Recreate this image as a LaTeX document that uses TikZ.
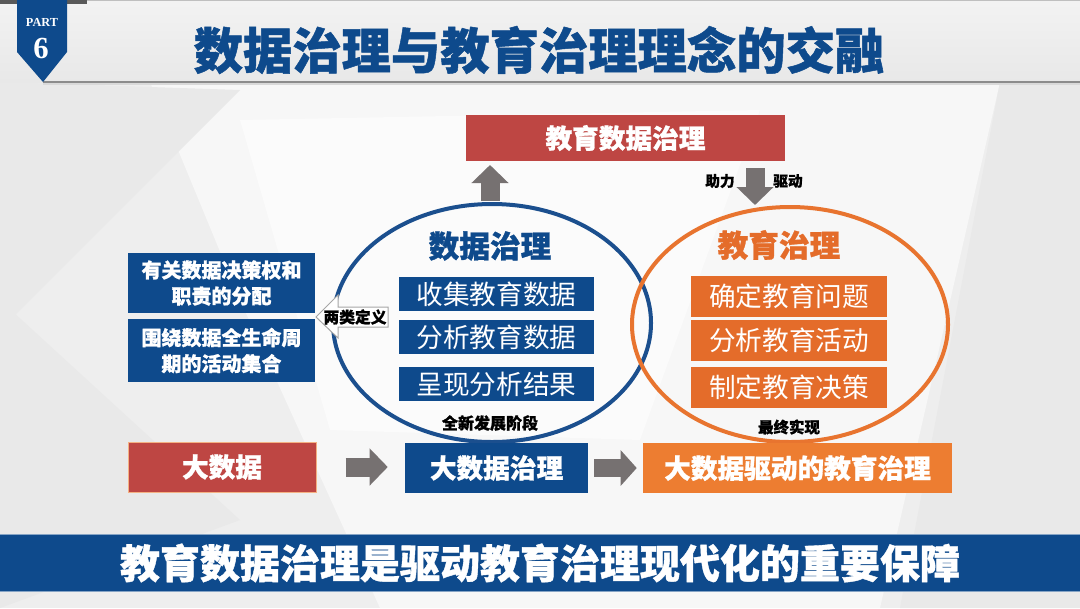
\documentclass[tikz,border=0pt]{standalone}
\usepackage{fontspec}
\setmainfont{Noto Sans CJK SC}[BoldFeatures={FakeBold=1}]
\newfontfamily\partfont{Liberation Serif}
\usetikzlibrary{shapes.geometric,arrows.meta}
\definecolor{dblue}{HTML}{0E4A8C}
\definecolor{dred}{HTML}{BE4643}
\definecolor{orin}{HTML}{E46C2A}
\definecolor{orbot}{HTML}{ED7D31}
\definecolor{orell}{HTML}{E8742F}
\definecolor{elblue}{HTML}{1B4F8E}
\definecolor{agray}{HTML}{767171}
\definecolor{bgbase}{HTML}{EEEEEE}
\tikzset{
  fillbox/.style={inner sep=0pt, text=white, align=center},
  garrow/.style={draw=agray, line width=14.25pt, -{Triangle[width=27pt,length=13.5pt]}},
  garrowsm/.style={draw=agray, line width=13pt, -{Triangle[width=26pt,length=12pt]}},
  lbl/.style={inner sep=0pt, text=black, font=\bfseries\fontsize{11.8}{14}\selectfont},
}
\begin{document}
\begin{tikzpicture}[x=0.75pt,y=-0.75pt]
\useasboundingbox (0,0) rectangle (1080,608);
% background
\fill[bgbase] (0,0) rectangle (1080,608);
\fill[white!50!bgbase] (150,82) -- (1000,82) -- (880,608) -- (380,608) -- (240,300) -- cycle;
\fill[white!75!bgbase] (240,120) -- (760,110) -- (640,440) -- (330,430) -- cycle;
\fill[black!2!bgbase] (0,300) -- (240,520) -- (0,608) -- cycle;
\fill[black!2!bgbase] (1000,82) -- (1080,82) -- (1080,608) -- (900,608) -- cycle;
\fill[black!2!bgbase] (0,82) -- (240,90) -- (0,330) -- cycle;
% title band
\fill[top color=white!95!black, bottom color=white!91!black] (0,0) rectangle (1080,82);
\draw[black!25, line width=0.75pt] (87,0.5) -- (1080,0.5);
\fill[black!65] (0,0) rectangle (87,4);
\draw[black!45, line width=1.2pt] (43,82) -- (1080,82);
\draw[black!15, line width=1pt] (43,84) -- (1080,84);
% badge
\fill[dblue] (17,0) -- (67,0) -- (67,52) -- (43,82) -- (17,52) -- cycle;
\node[inner sep=0pt, text=white, font=\partfont\bfseries\fontsize{9.2}{10}\selectfont] (part) at (42,22) {PART};
\node[inner sep=0pt, text=white, font=\partfont\bfseries\fontsize{23}{26}\selectfont] (six) at (41,48) {6};
% title
\node[inner sep=0pt, text=dblue, font=\bfseries\fontsize{37}{40}\selectfont] (title) at (539,50) {数据治理与教育治理理念的交融};
% top box
\node[fillbox, fill=dred, minimum width=239.25pt, minimum height=34.5pt, font=\bfseries\fontsize{20}{24}\selectfont] (tbox) at (625.5,138) {教育数据治理};
% ellipses
\node[ellipse, draw=elblue, line width=3pt, inner sep=0pt, minimum width=238.5pt, minimum height=178.5pt] (bell) at (492,323) {};
\node[ellipse, draw=orell, line width=3pt, inner sep=0pt, minimum width=237pt, minimum height=176.25pt] (oell) at (790,324.5) {};
% headings
\node[inner sep=0pt, text=dblue, font=\bfseries\fontsize{23}{27}\selectfont] (bh) at (490,246) {数据治理};
\node[inner sep=0pt, text=orin, font=\bfseries\fontsize{23}{27}\selectfont] (oh) at (779,245) {教育治理};
% blue inner boxes
\tikzset{bin/.style={fillbox, fill=dblue, minimum width=146.25pt, minimum height=25.5pt, font=\fontsize{20}{24}\selectfont}}
\node[bin] (b1) at (496.5,294) {收集教育数据};
\node[bin] (b2) at (496.5,337) {分析教育数据};
\node[bin] (b3) at (496.5,384) {呈现分析结果};
% orange inner boxes
\tikzset{oin/.style={fillbox, fill=orin, minimum width=147pt, minimum height=30.75pt, font=\fontsize{20}{24}\selectfont}}
\node[oin] (o1) at (789,296.5) {确定教育问题};
\node[oin] (o2) at (789,340.5) {分析教育活动};
\node[oin] (o3) at (789,387.5) {制定教育决策};
% small labels
\node[lbl, font=\bfseries\fontsize{12}{14}\selectfont] (lb1) at (490,423) {全新发展阶段};
\node[lbl, font=\bfseries\fontsize{11.6}{14}\selectfont] (lb2) at (789,427) {最终实现};
\node[lbl, font=\bfseries\fontsize{11}{13}\selectfont] (zl) at (720,181) {助力};
\node[lbl, font=\bfseries\fontsize{11}{13}\selectfont] (qd) at (788,181) {驱动};
% left boxes
\tikzset{lbox/.style={fillbox, fill=dblue, minimum width=140.25pt, font=\bfseries\fontsize{15}{19.5}\selectfont}}
\node[lbox, minimum height=45pt] (d1) at (221.5,283) {有关数据决策权和\\职责的分配};
\node[lbox, minimum height=47.25pt] (d2) at (221.5,350.5) {围绕数据全生命周\\期的活动集合};
% callout
\draw[fill=white, draw=black!35, line width=0.75pt] (316,317) -- (338,295) -- (338,307) -- (388,307) -- (388,327) -- (338,327) -- (338,338) -- cycle;
\node[lbl] (cl) at (355,317) {两类定义};
% bottom row
\tikzset{bbox/.style={fillbox, minimum height=37.5pt, font=\bfseries\fontsize{20}{24}\selectfont}}
\node[bbox, fill=dred, draw=orbot!60, line width=0.75pt, minimum width=141pt] (bb1) at (222,467) {大数据};
\node[bbox, fill=dblue, minimum width=137.25pt] (bb2) at (496.5,468) {大数据治理};
\node[bbox, fill=orbot, minimum width=231.75pt] (bb3) at (797.5,468) {大数据驱动的教育治理};
% arrows
\coordinate (upS) at (490,201);
\coordinate (upE) at (490,165);
\draw[garrow] (upS) -- (upE);
\coordinate (dnS) at (755,168);
\coordinate (dnE) at (755,205);
\draw[garrow] (dnS) -- (dnE);
\draw[garrow, shorten <=21.75pt, shorten >=12.75pt] (bb1.east) -- (bb2.west |- bb1.east);
\draw[garrowsm, shorten <=4.5pt, shorten >=4.5pt] (bb2.east) -- (bb3.west);
% banner
\node[fill=dblue, draw=dblue!50!white, line width=0.75pt, inner sep=0pt, minimum width=820pt, minimum height=42.75pt] (ban) at (540,562.5) {};
\node[inner sep=0pt, text=white, font=\bfseries\fontsize{30}{34}\selectfont] (bantext) at (540,563) {教育数据治理是驱动教育治理现代化的重要保障};
\end{tikzpicture}
\end{document}
